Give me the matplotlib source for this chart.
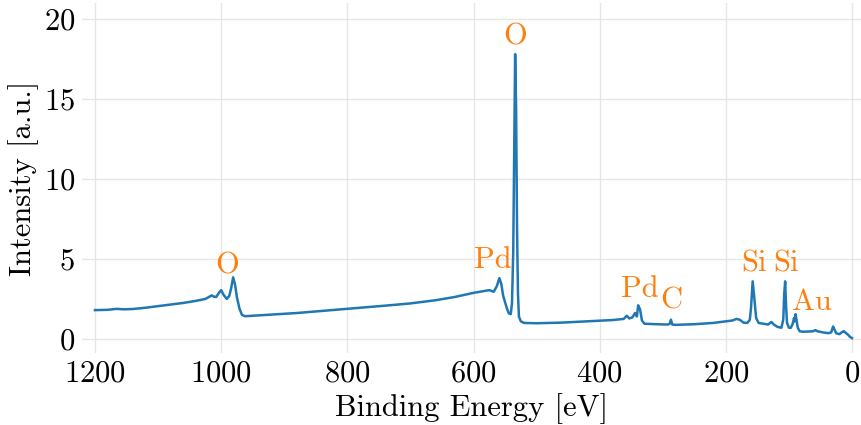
import matplotlib
matplotlib.use("Agg")
from matplotlib import pyplot as plt

# XPS survey spectrum
energy = [1200, 1180, 1165, 1155, 1140, 1120, 1100, 1080, 1060, 1040, 1025, 1015, 1012, 1008,
          1004, 1000, 996, 991, 987, 984, 981, 978, 975, 971, 967, 962, 950, 920, 880, 840,
          800, 780, 740, 700, 660, 630, 600, 585, 575, 568, 563, 559, 556, 553, 550, 547,
          544, 541, 539, 537, 535.5, 534, 532.5, 531, 529.5, 528, 525, 520, 500, 460, 420,
          380, 362, 357, 353, 348, 344, 341, 339, 336, 333, 329, 310, 292, 289, 287, 285,
          280, 250, 220, 200, 190, 183, 178, 172, 166, 162, 160, 157.5, 155, 152, 148, 140,
          133, 128, 124, 118, 112, 109, 107.5, 106, 104.5, 103, 100, 97, 94, 92, 91, 89.5,
          88, 86, 83, 78, 70, 62, 58, 55, 45, 37, 33, 30, 28, 25, 20, 15, 13, 10, 6, 3, 0]
intensity = [1.80, 1.82, 1.88, 1.85, 1.87, 1.95, 2.05, 2.15, 2.25, 2.38, 2.50, 2.72, 2.65, 2.62,
             2.85, 3.05, 2.75, 2.50, 2.70, 3.20, 3.85, 3.40, 2.60, 1.90, 1.50, 1.42, 1.45, 1.52,
             1.62, 1.75, 1.88, 1.95, 2.08, 2.22, 2.42, 2.62, 2.88, 2.98, 3.05, 2.95, 3.30, 3.80,
             3.45, 2.70, 2.30, 1.90, 1.60, 1.55, 2.20, 5.50, 12.0, 17.8, 14.5, 7.0, 2.8, 1.40,
             1.10, 1.00, 0.98, 1.02, 1.10, 1.18, 1.25, 1.45, 1.28, 1.35, 1.62, 1.40, 2.10, 1.85,
             1.15, 0.95, 0.92, 0.90, 0.95, 1.20, 0.90, 0.88, 0.92, 1.00, 1.10, 1.15, 1.25, 1.20,
             1.02, 1.00, 1.20, 2.00, 3.60, 2.60, 1.30, 1.00, 0.95, 0.90, 1.06, 0.90, 0.75, 0.70,
             1.20, 2.80, 3.60, 2.00, 1.00, 0.70, 0.70, 0.95, 1.30, 1.10, 1.55, 1.20, 0.70, 0.48,
             0.45, 0.46, 0.48, 0.55, 0.48, 0.40, 0.36, 0.42, 0.78, 0.60, 0.35, 0.30, 0.45, 0.48,
             0.38, 0.25, 0.12, 0.05]

# peak labels
labels = ["O", "Pd", "O", "Pd", "C", "Si", "Si", "Au"]
label_x = [991, 569, 534, 336, 286, 156, 105, 64]
label_y = [4.6, 4.9, 18.9, 3.1, 2.4, 4.7, 4.7, 2.3]

plt.rcParams['font.family'] = 'cmr10'
plt.rcParams['mathtext.fontset'] = 'cm'
plt.rcParams['axes.formatter.use_mathtext'] = True
plt.rcParams['font.size'] = 22

fig = plt.figure(figsize=(8.62, 4.25), dpi=100)
ax = fig.add_axes([0.0951, 0.1694, 0.9049, 0.8235])

ax.plot(energy, intensity, color='#1f77b4', linewidth=1.8)
for lab, x, y in zip(labels, label_x, label_y):
    ax.text(x, y, lab, color='#ff7f0e', ha='center', va='center')

ax.set_xlim(1220.6, -15.8)
ax.set_ylim(-0.88, 21.0)
ax.set_xticks([1200, 1000, 800, 600, 400, 200, 0])
ax.set_yticks([0, 5, 10, 15, 20])
ax.set_xlabel('Binding Energy [eV]', labelpad=4)
ax.set_ylabel('Intensity [a.u.]', labelpad=3)
ax.grid(True, color='#e6e6e6', linewidth=1)
ax.set_axisbelow(True)
ax.tick_params(length=0, pad=5)
for s in ax.spines.values():
    s.set_visible(False)

fig.savefig('out.png', dpi=100)
